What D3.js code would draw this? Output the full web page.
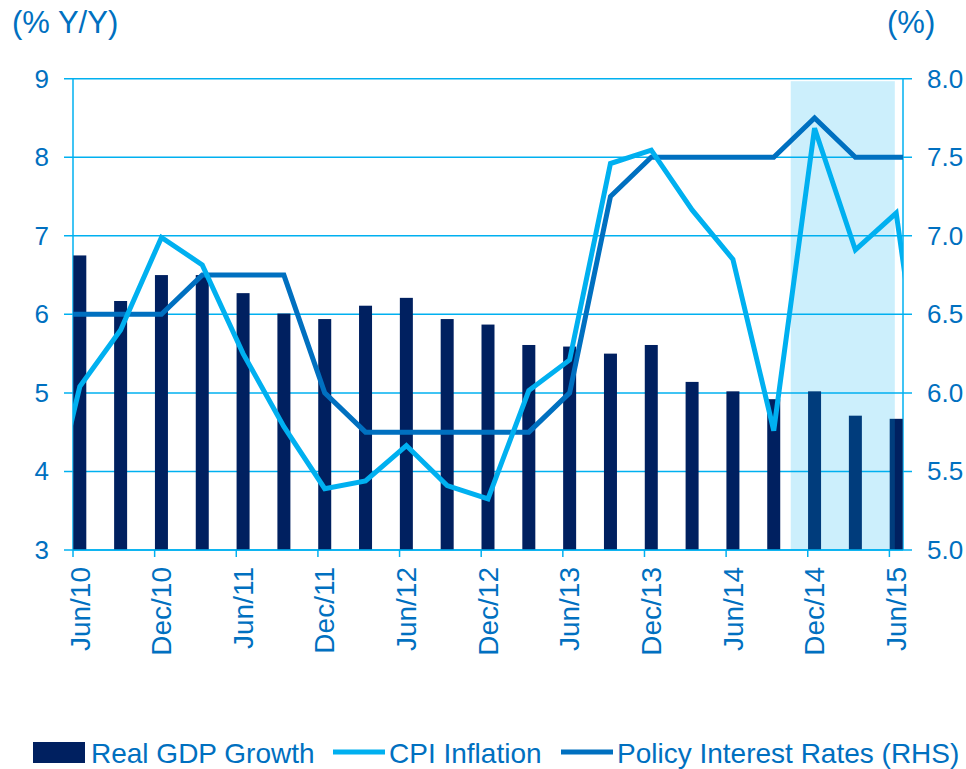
<!DOCTYPE html>
<html lang="en">
<head>
    <meta charset="utf-8">
    <title>D3: GDP, CPI and Policy Rate</title>
    <script type="text/javascript" src="https://d3js.org/d3.v7.min.js"></script>
    <style>
        body { margin: 0; background: #fff; }
        text { font-family: "Liberation Sans", Arial, sans-serif; fill: #0070C0; }
    </style>
</head>
<body>
    <script type="text/javascript">

        // Quarterly periods shown as bars
        var quarters = ["Jun/10","Sep/10","Dec/10","Mar/11","Jun/11","Sep/11","Dec/11","Mar/12","Jun/12",
                        "Sep/12","Dec/12","Mar/13","Jun/13","Sep/13","Dec/13","Mar/14","Jun/14","Sep/14",
                        "Dec/14","Mar/15","Jun/15"];

        // Real GDP growth (% Y/Y, left axis)
        var gdpGrowth = [6.75, 6.17, 6.50, 6.50, 6.27, 6.01, 5.94, 6.11, 6.21, 5.94, 5.87, 5.61, 5.59,
                         5.50, 5.61, 5.14, 5.02, 4.92, 5.02, 4.71, 4.67];

        // CPI inflation (% Y/Y, left axis), Mar/10 to Sep/15 (ends are clipped)
        var cpiInflation = [2.9, 5.08, 5.80, 6.98, 6.63, 5.50, 4.57, 3.78, 3.88, 4.33, 3.82, 3.65, 5.03,
                            5.42, 7.92, 8.09, 7.33, 6.70, 4.52, 8.37, 6.82, 7.29, 3.6];

        // Policy interest rate (%, right axis), Mar/10 to Sep/15
        var policyRate = [6.5, 6.5, 6.5, 6.5, 6.75, 6.75, 6.75, 6.0, 5.75, 5.75, 5.75, 5.75, 5.75,
                          6.0, 7.25, 7.5, 7.5, 7.5, 7.5, 7.75, 7.5, 7.5, 7.5];

        var xTickLabels = ["Jun/10","Dec/10","Jun/11","Dec/11","Jun/12","Dec/12","Jun/13","Dec/13","Jun/14","Dec/14","Jun/15"];
        var leftTicks = [3, 4, 5, 6, 7, 8, 9];
        var rightTicks = [5.0, 5.5, 6.0, 6.5, 7.0, 7.5, 8.0];

        // Shaded forecast window, in months from Jun/10
        var shadeMonths = [52.75, 60.4];

        var width = 966, height = 769;
        var plotLeft = 73, plotRight = 903, plotTop = 78.7, plotBottom = 550;

        var svg = d3.select("body").append("svg")
            .attr("width", width)
            .attr("height", height);

        // Months since Jun/10 on x
        var x = d3.scaleLinear().domain([0, 61]).range([plotLeft, plotRight]);
        var yLeft = d3.scaleLinear().domain([3, 9]).range([plotBottom, plotTop]);
        var yRight = d3.scaleLinear().domain([5, 8]).range([plotBottom, plotTop]);

        var blue = "#00B0F0", darkBlue = "#0070C0", navy = "#002060";

        // Gridlines with tick stubs on both sides
        svg.append("g").selectAll("line")
            .data(leftTicks)
            .enter().append("line")
            .attr("x1", plotLeft - 9).attr("x2", plotRight + 9)
            .attr("y1", function(d) { return yLeft(d); })
            .attr("y2", function(d) { return yLeft(d); })
            .attr("stroke", blue).attr("stroke-width", 1.5);

        // Vertical axis lines
        svg.append("line").attr("x1", plotLeft).attr("x2", plotLeft).attr("y1", plotTop).attr("y2", plotBottom)
            .attr("stroke", blue).attr("stroke-width", 1.5);
        svg.append("line").attr("x1", plotRight).attr("x2", plotRight).attr("y1", plotTop).attr("y2", plotBottom)
            .attr("stroke", blue).attr("stroke-width", 1.5);

        // Bars, centred half a month after each quarter date
        svg.append("g").selectAll("rect")
            .data(gdpGrowth)
            .enter().append("rect")
            .attr("x", function(d, i) { return x(i * 3 + 0.5) - 6.5; })
            .attr("width", 13)
            .attr("y", function(d) { return yLeft(d); })
            .attr("height", function(d) { return yLeft(3) - yLeft(d); })
            .attr("fill", navy);

        // Forecast shading over the bars
        svg.append("rect")
            .attr("x", x(shadeMonths[0]))
            .attr("width", x(shadeMonths[1]) - x(shadeMonths[0]))
            .attr("y", plotTop + 2.5)
            .attr("height", plotBottom - plotTop - 2.5)
            .attr("fill", blue)
            .attr("opacity", 0.2);

        // X axis line and ticks
        svg.append("line").attr("x1", plotLeft).attr("x2", plotRight).attr("y1", plotBottom).attr("y2", plotBottom)
            .attr("stroke", blue).attr("stroke-width", 1.5);
        svg.append("g").selectAll("line")
            .data(xTickLabels)
            .enter().append("line")
            .attr("x1", function(d, i) { return x(i * 6); })
            .attr("x2", function(d, i) { return x(i * 6); })
            .attr("y1", plotBottom).attr("y2", plotBottom + 7)
            .attr("stroke", blue).attr("stroke-width", 1.5);

        // Lines, clipped to plot area
        svg.append("clipPath").attr("id", "plotClip")
            .append("rect").attr("x", plotLeft).attr("y", plotTop - 10)
            .attr("width", plotRight - plotLeft).attr("height", plotBottom - plotTop + 10);

        var linesG = svg.append("g").attr("clip-path", "url(#plotClip)");

        var policyLine = d3.line()
            .x(function(d, i) { return x((i - 1) * 3 + 0.5); })
            .y(function(d) { return yRight(d); });
        var cpiLine = d3.line()
            .x(function(d, i) { return x((i - 1) * 3 + 0.5); })
            .y(function(d) { return yLeft(d); });

        linesG.append("path").attr("d", policyLine(policyRate))
            .attr("fill", "none").attr("stroke", darkBlue).attr("stroke-width", 5);
        linesG.append("path").attr("d", cpiLine(cpiInflation))
            .attr("fill", "none").attr("stroke", blue).attr("stroke-width", 5);

        // Left tick labels
        svg.append("g").selectAll("text")
            .data(leftTicks)
            .enter().append("text")
            .attr("x", 49)
            .attr("y", function(d) { return yLeft(d) + 9; })
            .attr("text-anchor", "end")
            .style("font-size", "26px")
            .text(function(d) { return d; });

        // Right tick labels
        svg.append("g").selectAll("text")
            .data(rightTicks)
            .enter().append("text")
            .attr("x", 927)
            .attr("y", function(d) { return yRight(d) + 9; })
            .style("font-size", "26px")
            .text(function(d) { return d3.format(".1f")(d); });

        // Rotated x labels
        svg.append("g").selectAll("text")
            .data(xTickLabels)
            .enter().append("text")
            .attr("transform", function(d, i) { return "translate(" + (x(i * 6) + 16.5) + "," + 567 + ") rotate(-90)"; })
            .attr("text-anchor", "end")
            .style("font-size", "28px")
            .text(function(d) { return d; });

        // Axis titles
        svg.append("text").attr("x", 12).attr("y", 33).style("font-size", "31px").text("(% Y/Y)");
        svg.append("text").attr("x", 887).attr("y", 33).style("font-size", "31px").text("(%)");

        // Legend
        var legend = svg.append("g");
        legend.append("rect").attr("x", 33).attr("y", 742).attr("width", 52).attr("height", 21).attr("fill", navy);
        legend.append("text").attr("x", 91).attr("y", 763).style("font-size", "28px").text("Real GDP Growth");
        legend.append("line").attr("x1", 333).attr("x2", 385).attr("y1", 752).attr("y2", 752)
            .attr("stroke", blue).attr("stroke-width", 5);
        legend.append("text").attr("x", 389).attr("y", 763).style("font-size", "28px").text("CPI Inflation");
        legend.append("line").attr("x1", 561).attr("x2", 613).attr("y1", 752).attr("y2", 752)
            .attr("stroke", darkBlue).attr("stroke-width", 5);
        legend.append("text").attr("x", 617).attr("y", 763).style("font-size", "28px").text("Policy Interest Rates (RHS)");

    </script>
</body>
</html>
